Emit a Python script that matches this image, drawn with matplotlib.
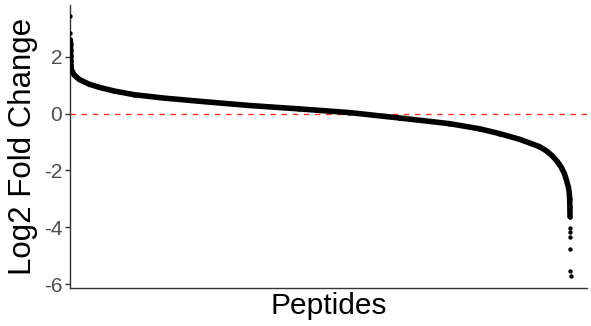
import matplotlib
matplotlib.use("Agg")
import matplotlib.pyplot as plt
import numpy as np

plt.rcParams["font.family"] = ["Liberation Sans", "DejaVu Sans"]

# Peptides ranked by log2 fold change (rank position among ~5000 peptides)
rank = [1, 2, 3, 4, 5, 6, 7, 8, 12, 20, 40, 90, 190, 290, 440, 640, 790,
        940, 1290, 1790, 2290, 2790, 3290, 3790, 4090, 4290, 4490, 4690,
        4760, 4820, 4870, 4910, 4940, 4960, 4980, 4988, 4992, 4994, 4995,
        4996, 4997, 4998, 4999, 5000, 5001]
log2fc = [3.46, 2.85, 2.60, 2.45, 2.25, 2.05, 1.85, 1.70, 1.58, 1.50, 1.37,
          1.21, 1.04, 0.93, 0.80, 0.67, 0.61, 0.55, 0.44, 0.29, 0.17, 0.04,
          -0.15, -0.35, -0.53, -0.70, -0.90, -1.16, -1.31, -1.49, -1.69,
          -1.90, -2.12, -2.34, -2.60, -2.80, -3.00, -3.30, -3.63, -4.02,
          -4.15, -4.35, -4.75, -5.55, -5.70]
y_ticks = [2, 0, -2, -4, -6]

rank = np.array(rank)
log2fc = np.array(log2fc)

fig = plt.figure(figsize=(5.91, 3.26), dpi=100)
ax = fig.add_axes([70 / 591, 1 - 288 / 326, 517 / 591, 283 / 326])

# dense body of the distribution drawn as a continuous band
body = (log2fc <= 2.6) & (log2fc >= -3.63)
ax.plot(rank[body], log2fc[body], color="black", lw=4.0,
        solid_capstyle="round", solid_joinstyle="round", zorder=3)
ax.scatter(rank, log2fc, s=10, color="black", linewidths=0, zorder=4)

ax.axhline(0, color="#FF3030", lw=1.0, ls=(0, (4, 4)), zorder=2)

ax.set_xlim(-1, 5165)
ax.set_ylim(-6.14, 3.83)
ax.set_yticks(y_ticks)
ax.set_yticklabels([str(t) for t in y_ticks])
ax.set_xticks([])

for side in ("top", "right"):
    ax.spines[side].set_visible(False)
for side in ("left", "bottom"):
    ax.spines[side].set_color("#333333")
    ax.spines[side].set_linewidth(1.0)

ax.tick_params(axis="y", length=3.5, width=1.0, color="#333333",
               labelsize=15, labelcolor="#4D4D4D", pad=2)

ax.set_ylabel("Log2 Fold Change", fontsize=22.5, color="black", labelpad=4)
ax.set_xlabel("Peptides", fontsize=21.5, color="black", labelpad=3)

fig.savefig("out.png", dpi=100)
